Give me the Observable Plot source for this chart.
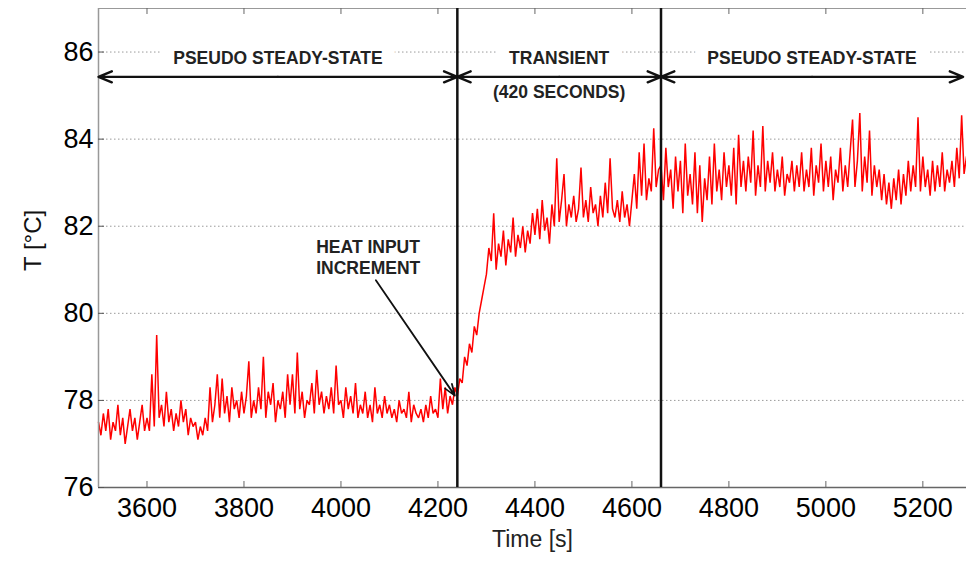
<!DOCTYPE html>
<html><head><meta charset="utf-8">
<script src="https://cdn.jsdelivr.net/npm/d3@7"></script>
<script src="https://cdn.jsdelivr.net/npm/@observablehq/plot@0.6"></script>
<style>
body{margin:0;background:#fff;}
svg{font-family:"Liberation Sans",Arial,Helvetica,sans-serif;}
</style>
</head><body><div id="chart"></div>
<script>
// ---- data ----
const timeStart = 3500;   // s
const timeStep = 5;       // s between samples

// pseudo steady-state before the heat input increment (3500–4235 s)
const tempSteadyBefore = [
  77.5, 77.2, 77.7, 77.3, 77.8, 77.1, 77.5, 77.3, 77.9, 77.2, 77.6, 77.0, 77.4, 77.8, 77.3, 77.6, 77.1, 77.5, 77.9, 77.3,
  77.6, 77.3, 78.6, 77.4, 79.5, 77.6, 77.9, 77.4, 78.2, 77.5, 77.8, 77.3, 77.7, 77.4, 78.0, 77.5, 77.8, 77.2, 77.6, 77.4,
  77.5, 77.1, 77.4, 77.2, 77.6, 77.3, 78.3, 77.5, 77.9, 78.6, 77.6, 78.5, 77.7, 78.1, 77.5, 78.3, 77.8, 78.0, 77.6, 78.2,
  77.7, 78.1, 78.9, 77.6, 78.0, 77.7, 78.3, 77.8, 79.0, 77.6, 78.2, 77.9, 78.4, 77.5, 78.0, 77.8, 78.2, 77.6, 78.6, 77.9,
  78.6, 77.7, 79.1, 77.8, 78.2, 77.6, 78.0, 77.9, 78.4, 77.7, 78.7, 77.9, 78.2, 77.7, 78.1, 77.8, 78.3, 77.7, 78.8, 77.9,
  78.0, 77.6, 78.3, 77.8, 78.1, 77.7, 78.4, 77.6, 77.9, 77.7, 78.2, 77.6, 77.9, 77.5, 78.3, 77.7, 77.9, 77.6, 78.1, 77.7,
  77.9, 77.6, 77.8, 77.5, 78.0, 77.7, 77.8, 77.6, 78.2, 77.5, 77.9, 77.7, 77.6, 77.8, 77.5, 77.9, 77.6, 78.1, 77.7, 77.8,
  77.6, 78.5, 77.8, 78.3, 77.7, 78.1, 77.9, 78.3
];
// transient (4240–4655 s)
const tempTransient = [
  78.1, 78.5, 78.4, 79.0, 78.8, 79.3, 79.1, 79.7, 79.5, 80.0, 80.3, 80.6,
  80.9, 81.5, 81.2, 82.3, 81.0, 81.6, 81.3, 81.9, 81.1, 81.7, 81.4, 82.2, 81.3, 81.8, 81.5, 82.0, 81.4, 81.9, 81.6, 82.3,
  81.8, 82.4, 81.7, 82.6, 81.9, 82.2, 81.6, 82.5, 82.0, 83.56, 82.1, 82.6, 83.2, 82.0, 82.5, 82.2, 82.7, 82.1, 82.4, 83.35,
  82.2, 82.6, 82.1, 82.9, 82.3, 82.5, 82.0, 82.7, 82.2, 83.0, 82.3, 83.56, 82.4, 82.2, 82.6, 82.1, 82.8, 82.2, 82.5, 82.0,
  82.6, 83.2, 82.4, 83.7, 82.7, 83.9, 82.6, 83.1, 82.8, 84.25, 82.9, 83.3
];
// pseudo steady-state after the transient (4660–5290 s)
const tempSteadyAfter = [
  83.4, 82.6, 83.8, 82.9, 83.3, 82.4, 83.6, 82.8, 83.5, 82.3, 83.9, 82.7, 83.2, 82.5, 83.7, 82.3, 83.4, 82.1, 83.1, 82.6,
  83.6, 82.5, 83.9, 82.8, 83.3, 82.6, 83.7, 82.9, 83.4, 82.7, 83.8, 82.5, 84.1, 82.9, 83.5, 82.8, 83.6, 83.0, 84.2, 82.7,
  83.4, 82.9, 84.3, 82.8, 83.5, 83.0, 83.7, 82.8, 83.3, 82.9, 83.6, 82.7, 83.2, 83.0, 83.5, 82.8, 83.4, 82.9, 83.7, 82.8,
  83.3, 82.9, 83.8, 82.7, 83.4, 83.0, 83.9, 82.8, 83.5, 82.9, 83.6, 82.6, 83.3, 83.0, 83.8, 82.8, 83.4, 82.9, 83.7, 84.45,
  82.9, 83.5, 84.6, 82.8, 83.6, 83.0, 84.2, 82.7, 83.4, 82.9, 83.3, 82.6, 83.2, 82.5, 83.0, 82.4, 83.1, 82.6, 83.3, 82.5,
  83.2, 82.7, 83.5, 82.8, 83.4, 82.9, 84.5, 82.8, 83.6, 82.9, 83.3, 82.7, 83.5, 82.8, 83.4, 82.9, 83.7, 82.8, 83.3, 83.0,
  83.5, 82.9, 83.8, 83.1, 84.55, 83.2, 83.6
];

const xDomain = [3500, 5290];
const yDomain = [76, 87];
const xTicks = [3600, 3800, 4000, 4200, 4400, 4600, 4800, 5000, 5200];
const yTicks = [76, 78, 80, 82, 84, 86];
const gridY = [78, 80, 82, 84, 86];

// phases
const phaseBoundaries = [4240, 4660];
const phaseStart = [3500, 4240, 4660];
const phaseEnd = [4240, 4660, 5283];
const phaseLabels = ["PSEUDO STEADY-STATE", "TRANSIENT", "PSEUDO STEADY-STATE"];
const phaseLabelY = 85.85;
const phaseArrowY = 85.43;
const transientNote = ["(420 SECONDS)"];
const transientNoteY = 85.08;

// heat input annotation
const heatLabel = ["HEAT INPUT\nINCREMENT"];
const heatLabelX = 3949, heatLabelY = 81.30;
const heatArrowFrom = [4072, 80.76];
const heatArrowTo = [4235, 78.11];

const xLabel = "Time [s]";
const yLabel = "T [°C]";

// ---- build ----
const allTemps = [...tempSteadyBefore, ...tempTransient, ...tempSteadyAfter];
const series = allTemps.map((v, i) => ({t: timeStart + i * timeStep, v}));

const W = 966, H = 561, mL = 98, mR = 0, mT = 8, mB = 74;
const pxX = (xDomain[1] - xDomain[0]) / (W - mL - mR);
const pxY = (yDomain[1] - yDomain[0]) / (H - mT - mB);
const tickPx = 6;

const phaseMid = phaseStart.map((s, i) => (s + phaseEnd[i]) / 2);
const phaseText = phaseLabels.map((text, i) => ({text, x: phaseMid[i], y: phaseLabelY}));
const phaseArrows = phaseStart.flatMap((s, i) => [
  {x1: phaseMid[i], x2: s, y: phaseArrowY},
  {x1: phaseMid[i], x2: phaseEnd[i], y: phaseArrowY}
]);

const plot = Plot.plot({
  width: W, height: H,
  marginLeft: mL, marginRight: mR, marginTop: mT, marginBottom: mB,
  style: {background: "white", overflow: "visible", fontFamily: '"Liberation Sans", Arial, sans-serif'},
  x: {domain: xDomain},
  y: {domain: yDomain},
  marks: [
    Plot.ruleY(gridY, {stroke: "#9a9a9a", strokeWidth: 1, strokeDasharray: "1.5,2.5"}),
    Plot.line(series, {x: "t", y: "v", stroke: "#ff0000", strokeWidth: 1.5, strokeLinejoin: "miter"}),
    // axes box
    Plot.ruleY([yDomain[0]], {stroke: "#666", strokeWidth: 1.5}),
    Plot.ruleY([yDomain[1]], {stroke: "#999", strokeWidth: 1.2}),
    Plot.ruleX([xDomain[0]], {stroke: "#999", strokeWidth: 1.5}),
    // inward ticks
    Plot.ruleX(xTicks, {x: d => d, y1: yDomain[0], y2: yDomain[0] + tickPx * pxY, stroke: "#666"}),
    Plot.ruleX(xTicks, {x: d => d, y1: yDomain[1], y2: yDomain[1] - tickPx * pxY, stroke: "#666"}),
    Plot.ruleY(yTicks, {y: d => d, x1: xDomain[0], x2: xDomain[0] + tickPx * pxX, stroke: "#555"}),
    Plot.axisX(xTicks, {tickSize: 0, tickPadding: 10, fontSize: 27, label: null, tickFormat: d => String(d)}),
    Plot.axisY(yTicks, {tickSize: 0, tickPadding: 5, fontSize: 27, label: null, tickFormat: d => String(d)}),
    // axis titles
    Plot.text([xLabel], {frameAnchor: "bottom", dy: 59, fontSize: 23, fill: "#222"}),
    Plot.text([yLabel], {frameAnchor: "left", dx: -65, dy: 23, rotate: -90, fontSize: 24, fill: "#111"}),
    // phase labels (with white background)
    Plot.text(phaseText, {x: "x", y: "y", text: "text", fontSize: 17.5, fontWeight: "bold", fill: "#222",
      stroke: "white", strokeWidth: 26, strokeLinejoin: "round", paintOrder: "stroke"}),
    Plot.text(transientNote, {x: phaseMid[1], y: transientNoteY, fontSize: 17.5, fontWeight: "bold", fill: "#222"}),
    // phase boundaries
    Plot.ruleX(phaseBoundaries, {stroke: "#111", strokeWidth: 2.5}),
    // double-headed phase arrows
    Plot.arrow(phaseArrows, {x1: "x1", x2: "x2", y1: "y", y2: "y", stroke: "#111", strokeWidth: 2.4,
      headLength: 9, headAngle: 45}),
    // heat input annotation
    Plot.text(heatLabel, {x: heatLabelX, y: heatLabelY, textAnchor: "start", lineHeight: 1.2,
      fontSize: 17.5, fontWeight: "bold", fill: "#222"}),
    Plot.arrow([{}], {x1: heatArrowFrom[0], y1: heatArrowFrom[1], x2: heatArrowTo[0], y2: heatArrowTo[1],
      stroke: "#111", strokeWidth: 1.8, headLength: 10, headAngle: 40})
  ]
});
document.getElementById("chart").appendChild(plot);
</script>
</body></html>
